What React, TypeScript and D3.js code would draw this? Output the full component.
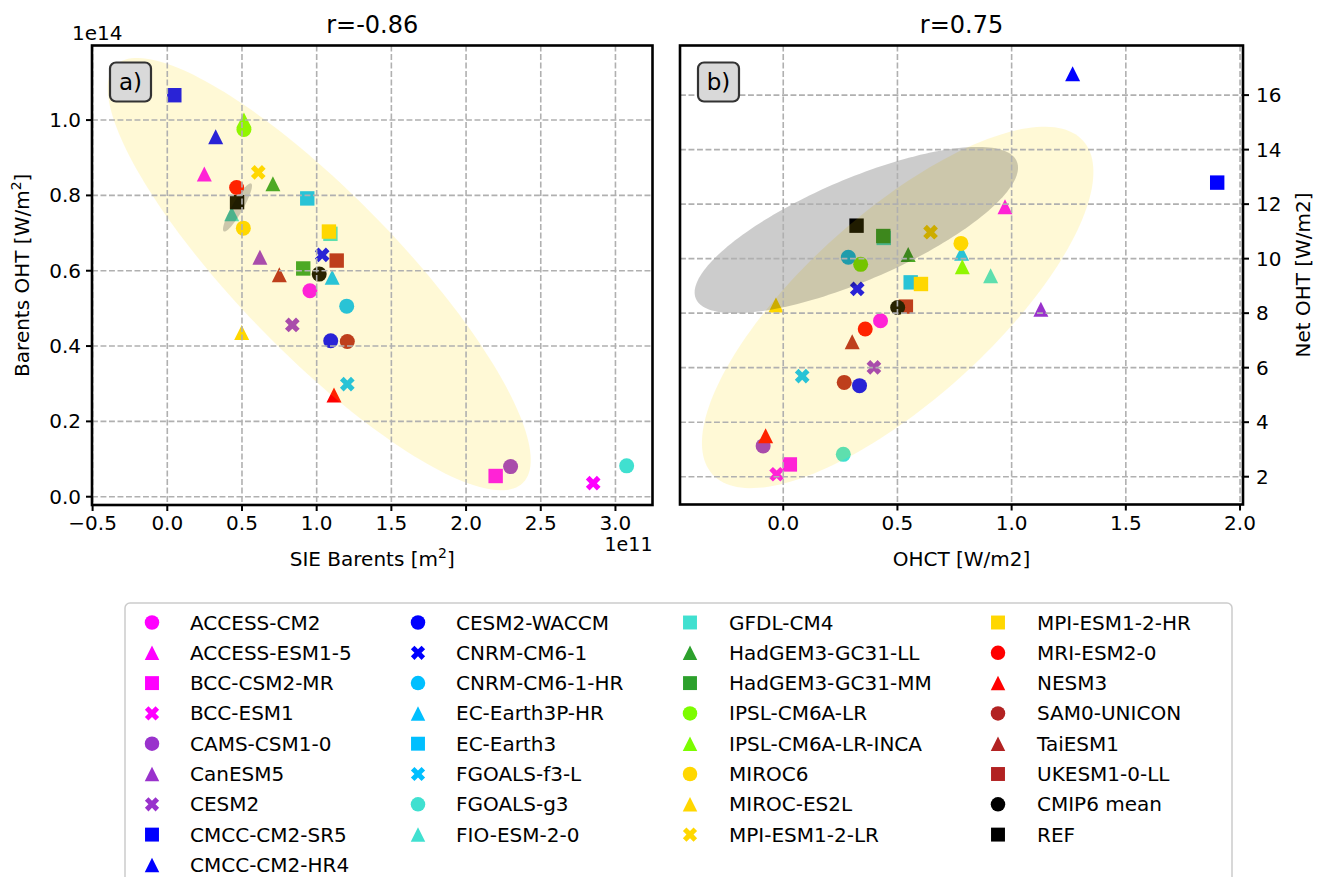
import React from 'react';
import * as d3 from 'd3';

const models = ['ACCESS-CM2','ACCESS-ESM1-5','BCC-CSM2-MR','BCC-ESM1','CAMS-CSM1-0','CanESM5','CESM2','CMCC-CM2-SR5','CMCC-CM2-HR4','CESM2-WACCM','CNRM-CM6-1','CNRM-CM6-1-HR','EC-Earth3P-HR','EC-Earth3','FGOALS-f3-L','FGOALS-g3','FIO-ESM-2-0','GFDL-CM4','HadGEM3-GC31-LL','HadGEM3-GC31-MM','IPSL-CM6A-LR','IPSL-CM6A-LR-INCA','MIROC6','MIROC-ES2L','MPI-ESM1-2-LR','MPI-ESM1-2-HR','MRI-ESM2-0','NESM3','SAM0-UNICON','TaiESM1','UKESM1-0-LL','CMIP6 mean','REF'];
const colors = ['#ff00ff','#ff00ff','#ff00ff','#ff00ff','#9932cc','#9932cc','#9932cc','#0000ff','#0000ff','#0000ff','#0000ff','#00bfff','#00bfff','#00bfff','#00bfff','#40e0d0','#40e0d0','#40e0d0','#2ca02c','#2ca02c','#7cfc00','#7cfc00','#ffd700','#ffd700','#ffd700','#ffd700','#ff0000','#ff0000','#b22222','#b22222','#b22222','#000000','#000000'];
const markers = ['o','^','s','X','o','^','X','s','^','o','X','o','^','s','X','o','^','s','^','s','o','^','o','^','X','s','o','^','o','^','s','o','s'];

// Panel a: SIE Barents (x 1e11 m^2), Barents OHT (y 1e14)
const sieBarents = [0.955,0.248,2.198,2.851,2.298,0.620,0.837,0.047,0.324,1.094,1.037,1.201,1.104,0.937,1.205,3.075,0.431,1.092,0.707,0.910,0.513,0.513,0.509,0.498,0.609,1.082,0.464,1.116,1.205,0.750,1.134,1.017,0.467];
const barentsOHT = [0.547,0.857,0.055,0.036,0.080,0.636,0.456,1.066,0.956,0.414,0.642,0.506,0.583,0.792,0.299,0.082,0.751,0.698,0.831,0.606,0.975,1.000,0.713,0.436,0.861,0.704,0.821,0.270,0.412,0.589,0.627,0.591,0.782];
// Panel b: OHCT (x W/m2), Net OHT (y W/m2)
const ohct = [0.426,0.971,0.029,-0.029,-0.088,1.128,0.397,1.900,1.267,0.334,0.324,0.285,0.781,0.558,0.083,0.263,0.908,0.440,0.547,0.438,0.339,0.784,0.778,-0.032,0.645,0.603,0.359,-0.077,0.267,0.302,0.537,0.501,0.321];
const netOHT = [7.72,11.90,2.45,2.09,3.13,8.14,6.01,12.79,16.78,5.34,8.89,10.05,10.20,9.13,5.69,2.82,9.37,10.76,10.15,10.83,9.79,9.70,10.56,8.30,10.97,9.07,7.42,3.50,5.46,6.95,8.24,8.21,11.21];

const ticksAX = [-0.5,0,0.5,1.0,1.5,2.0,2.5,3.0];
const ticksAY = [0,0.2,0.4,0.6,0.8,1.0];
const ticksBX = [0,0.5,1.0,1.5,2.0];
const ticksBY = [2,4,6,8,10,12,14,16];

// confidence ellipses: [meanX, meanY, nStdX, nStdY, pearson]
const ellA = [1.017,0.591,1.416,0.574,-0.86];
const ellAref = [0.470,0.768,0.097,0.064,0.90];
const ellB = [0.501,8.21,0.857,6.63,0.75];
const ellBref = [0.320,11.05,0.708,3.05,0.75];

const FONT = 'DejaVu Sans, sans-serif';

function fmt(v: number, d: number) {
  const s = v.toFixed(d);
  return s.replace('-', '\u2212');
}

function Marker({ shape, x, y, color, size = 15 }: any) {
  if (shape === 'o') return <circle cx={x} cy={y} r={size / 2} fill={color} />;
  if (shape === 's') {
    const s = size * 0.96;
    return <rect x={x - s / 2} y={y - s / 2} width={s} height={s} fill={color} />;
  }
  if (shape === '^') {
    const h = size / 2;
    return <path d={`M${x},${y - h}L${x + h},${y + h}L${x - h},${y + h}Z`} fill={color} />;
  }
  const pts = [[-1,-3],[1,-3],[1,-1],[3,-1],[3,1],[1,1],[1,3],[-1,3],[-1,1],[-3,1],[-3,-1],[-1,-1]];
  const k = (size * 1.04) / 6;
  const c = Math.SQRT1_2;
  const d = pts.map((p, i) => {
    const px = (p[0] - p[1]) * c * k, py = (p[0] + p[1]) * c * k;
    return `${i ? 'L' : 'M'}${x + px},${y + py}`;
  }).join('') + 'Z';
  return <path d={d} fill={color} />;
}

function ellipsePath(e: number[], xs: any, ys: any) {
  const [mx, my, nx, ny, r] = e;
  const a = Math.sqrt(1 + r), b = Math.sqrt(1 - r);
  const pts: [number, number][] = d3.range(0, 361, 2).map(deg => {
    const t = (deg * Math.PI) / 180;
    const ux = a * Math.cos(t), uy = b * Math.sin(t);
    const rx = (ux - uy) * Math.SQRT1_2, ry = (ux + uy) * Math.SQRT1_2;
    return [xs(mx + rx * nx), ys(my + ry * ny)];
  });
  return d3.line()(pts) + 'Z';
}

function Panel({ box, xs, ys, xv, yv, ticksX, ticksY, xd, yd, ell, ellRef, yRight, label }: any) {
  const gridStyle = { stroke: '#b0b0b0', strokeWidth: 1.6, strokeDasharray: '5.9,2.6' };
  return (
    <g>
      {xv.map((v: number, i: number) => (
        <Marker key={i} shape={markers[i]} x={xs(v)} y={ys(yv[i])} color={colors[i]} />
      ))}
      <path d={ellipsePath(ell, xs, ys)} fill="#ffd700" fillOpacity={0.16} />
      <path d={ellipsePath(ellRef, xs, ys)} fill="#000000" fillOpacity={0.2} />
      {ticksX.map((t: number) => (
        <line key={'gx' + t} x1={xs(t)} x2={xs(t)} y1={box.top} y2={box.bottom} style={gridStyle} />
      ))}
      {ticksY.map((t: number) => (
        <line key={'gy' + t} x1={box.left} x2={box.right} y1={ys(t)} y2={ys(t)} style={gridStyle} />
      ))}
      <rect x={box.left} y={box.top} width={box.right - box.left} height={box.bottom - box.top} fill="none" stroke="#000" strokeWidth={2.6} />
      {ticksX.map((t: number) => (
        <g key={'tx' + t}>
          <line x1={xs(t)} x2={xs(t)} y1={box.bottom} y2={box.bottom + 6} stroke="#000" strokeWidth={2} />
          <text x={xs(t)} y={box.bottom + 25} textAnchor="middle" fontSize={20} fontFamily={FONT}>{fmt(t, xd)}</text>
        </g>
      ))}
      {ticksY.map((t: number) => yRight ? (
        <g key={'ty' + t}>
          <line x1={box.right} x2={box.right + 6} y1={ys(t)} y2={ys(t)} stroke="#000" strokeWidth={2} />
          <text x={box.right + 13} y={ys(t) + 7} textAnchor="start" fontSize={20} fontFamily={FONT}>{fmt(t, yd)}</text>
        </g>
      ) : (
        <g key={'ty' + t}>
          <line x1={box.left - 6} x2={box.left} y1={ys(t)} y2={ys(t)} stroke="#000" strokeWidth={2} />
          <text x={box.left - 11} y={ys(t) + 7} textAnchor="end" fontSize={20} fontFamily={FONT}>{fmt(t, yd)}</text>
        </g>
      ))}
      <rect x={box.left + 18} y={box.top + 17} width={41} height={39} rx={6} fill="#d9d9d9" stroke="#333" strokeWidth={2.2} />
      <text x={box.left + 38.5} y={box.top + 44} textAnchor="middle" fontSize={23} fontFamily={FONT}>{label}</text>
    </g>
  );
}

export default function App() {
  const A = { left: 92, right: 652.5, top: 45.5, bottom: 505 };
  const B = { left: 680, right: 1243, top: 45.5, bottom: 504.5 };
  const xA = d3.scaleLinear().domain([-0.504, 3.248]).range([A.left, A.right]);
  const yA = d3.scaleLinear().domain([-0.022, 1.198]).range([A.bottom, A.top]);
  const xB = d3.scaleLinear().domain([-0.452, 2.013]).range([B.left, B.right]);
  const yB = d3.scaleLinear().domain([0.98, 17.82]).range([B.bottom, B.top]);

  const colMarkerX = [152, 418, 690, 998];
  const colTextX = [190, 456, 729, 1037];
  const perCol = [9, 8, 8, 8];
  const legendItems: { i: number; c: number; r: number }[] = [];
  let idx = 0;
  perCol.forEach((n, c) => {
    for (let r = 0; r < n; r++) legendItems.push({ i: idx++, c, r });
  });

  return (
    <svg width={1320} height={877} style={{ position: 'absolute', left: 0, top: 0, background: '#fff' }} fontFamily={FONT}>
      <rect x={0} y={0} width={1320} height={877} fill="#fff" />
      <Panel box={A} xs={xA} ys={yA} xv={sieBarents} yv={barentsOHT} ticksX={ticksAX} ticksY={ticksAY} xd={1} yd={1} ell={ellA} ellRef={ellAref} yRight={false} label="a)" />
      <Panel box={B} xs={xB} ys={yB} xv={ohct} yv={netOHT} ticksX={ticksBX} ticksY={ticksBY} xd={1} yd={0} ell={ellB} ellRef={ellBref} yRight={true} label="b)" />

      <text x={(A.left + A.right) / 2} y={33} textAnchor="middle" fontSize={24}>r=-0.86</text>
      <text x={(B.left + B.right) / 2} y={33} textAnchor="middle" fontSize={24}>r=0.75</text>
      <text x={A.left - 20} y={40} textAnchor="start" fontSize={20}>1e14</text>
      <text x={A.right} y={551} textAnchor="end" fontSize={19}>1e11</text>

      <text x={(A.left + A.right) / 2} y={566} textAnchor="middle" fontSize={20}>SIE Barents [m<tspan fontSize={14} dy={-8}>2</tspan><tspan dy={8}>]</tspan></text>
      <text x={(B.left + B.right) / 2} y={566} textAnchor="middle" fontSize={20}>OHCT [W/m2]</text>
      <text transform={`translate(29,${(A.top + A.bottom) / 2}) rotate(-90)`} textAnchor="middle" fontSize={20}>Barents OHT [W/m<tspan fontSize={14} dy={-8}>2</tspan><tspan dy={8}>]</tspan></text>
      <text transform={`translate(1310,${(B.top + B.bottom) / 2}) rotate(-90)`} textAnchor="middle" fontSize={20}>Net OHT [W/m2]</text>

      <rect x={125} y={603} width={1107} height={300} rx={5} fill="#fff" stroke="#cccccc" strokeWidth={1.5} />
      {legendItems.map(({ i, c, r }) => (
        <g key={'lg' + i}>
          <Marker shape={markers[i]} x={colMarkerX[c]} y={622.5 + r * 30.3} color={colors[i]} size={14.5} />
          <text x={colTextX[c]} y={622.5 + r * 30.3 + 7} fontSize={20}>{models[i]}</text>
        </g>
      ))}
    </svg>
  );
}
